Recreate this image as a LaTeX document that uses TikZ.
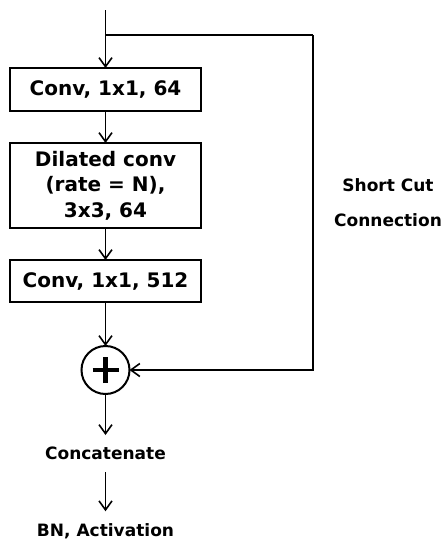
\documentclass[tikz,border=0pt]{standalone}
\usepackage{fontspec}
\setmainfont{DejaVu Sans}
\usetikzlibrary{arrows.meta, positioning}

\begin{document}
\begin{tikzpicture}[
  x=1pt, y=1pt,
  node distance = 32pt,
  box/.style = {rectangle, draw, line width=1.6pt, outer sep=0pt, minimum width=191pt,
                inner sep=2pt, align=center, font=\fontsize{20}{25.5}\selectfont\bfseries},
  lbl/.style = {inner xsep=0pt, inner ysep=12pt, align=center,
                font=\fontsize{17}{35}\selectfont\bfseries},
  arr/.style = {-{Straight Barb[length=9pt, width=13pt]}, line width=1.6pt},
  link/.style = {line width=1.6pt},
]
  \useasboundingbox (0,-542) rectangle (446,0);

  \node[box, minimum height=43pt] at (105.5,-89.5) (conv1) {Conv, 1x1, 64};
  \node[box, minimum height=85pt, below=of conv1] (dil) {Dilated conv\\(rate = N),\\3x3, 64};
  \node[box, minimum height=42pt, below=of dil]   (conv2) {Conv, 1x1, 512};
  \node[circle, draw, line width=2pt, outer sep=0pt, minimum size=48pt, below=44pt of conv2] (add) {};
  \node[lbl, below=41pt of add] (cat) {Concatenate};
  \node[lbl, below=39pt of cat] (bn)  {BN, Activation};
  \node[lbl] at (388,-203) (sc) {Short Cut\\Connection};

  \coordinate[above=58pt of conv1] (in);
  \coordinate[above=33pt of conv1] (split);
  \coordinate[right=207.5pt of split] (turn);

  % plus sign
  \draw[line width=4.5pt] ([xshift=-13pt]add.center) -- ([xshift=13pt]add.center)
                          ([yshift=-13pt]add.center) -- ([yshift=13pt]add.center);

  \draw[arr] (in)    -- (conv1);
  \draw[arr] (conv1) -- (dil);
  \draw[arr] (dil)   -- (conv2);
  \draw[arr] (conv2) -- (add);
  \draw[arr] (add)   -- (cat);
  \draw[arr] (cat)   -- (bn);
  \draw[link] (split) -- (turn);
  \draw[arr] (turn) |- (add);
\end{tikzpicture}
\end{document}
